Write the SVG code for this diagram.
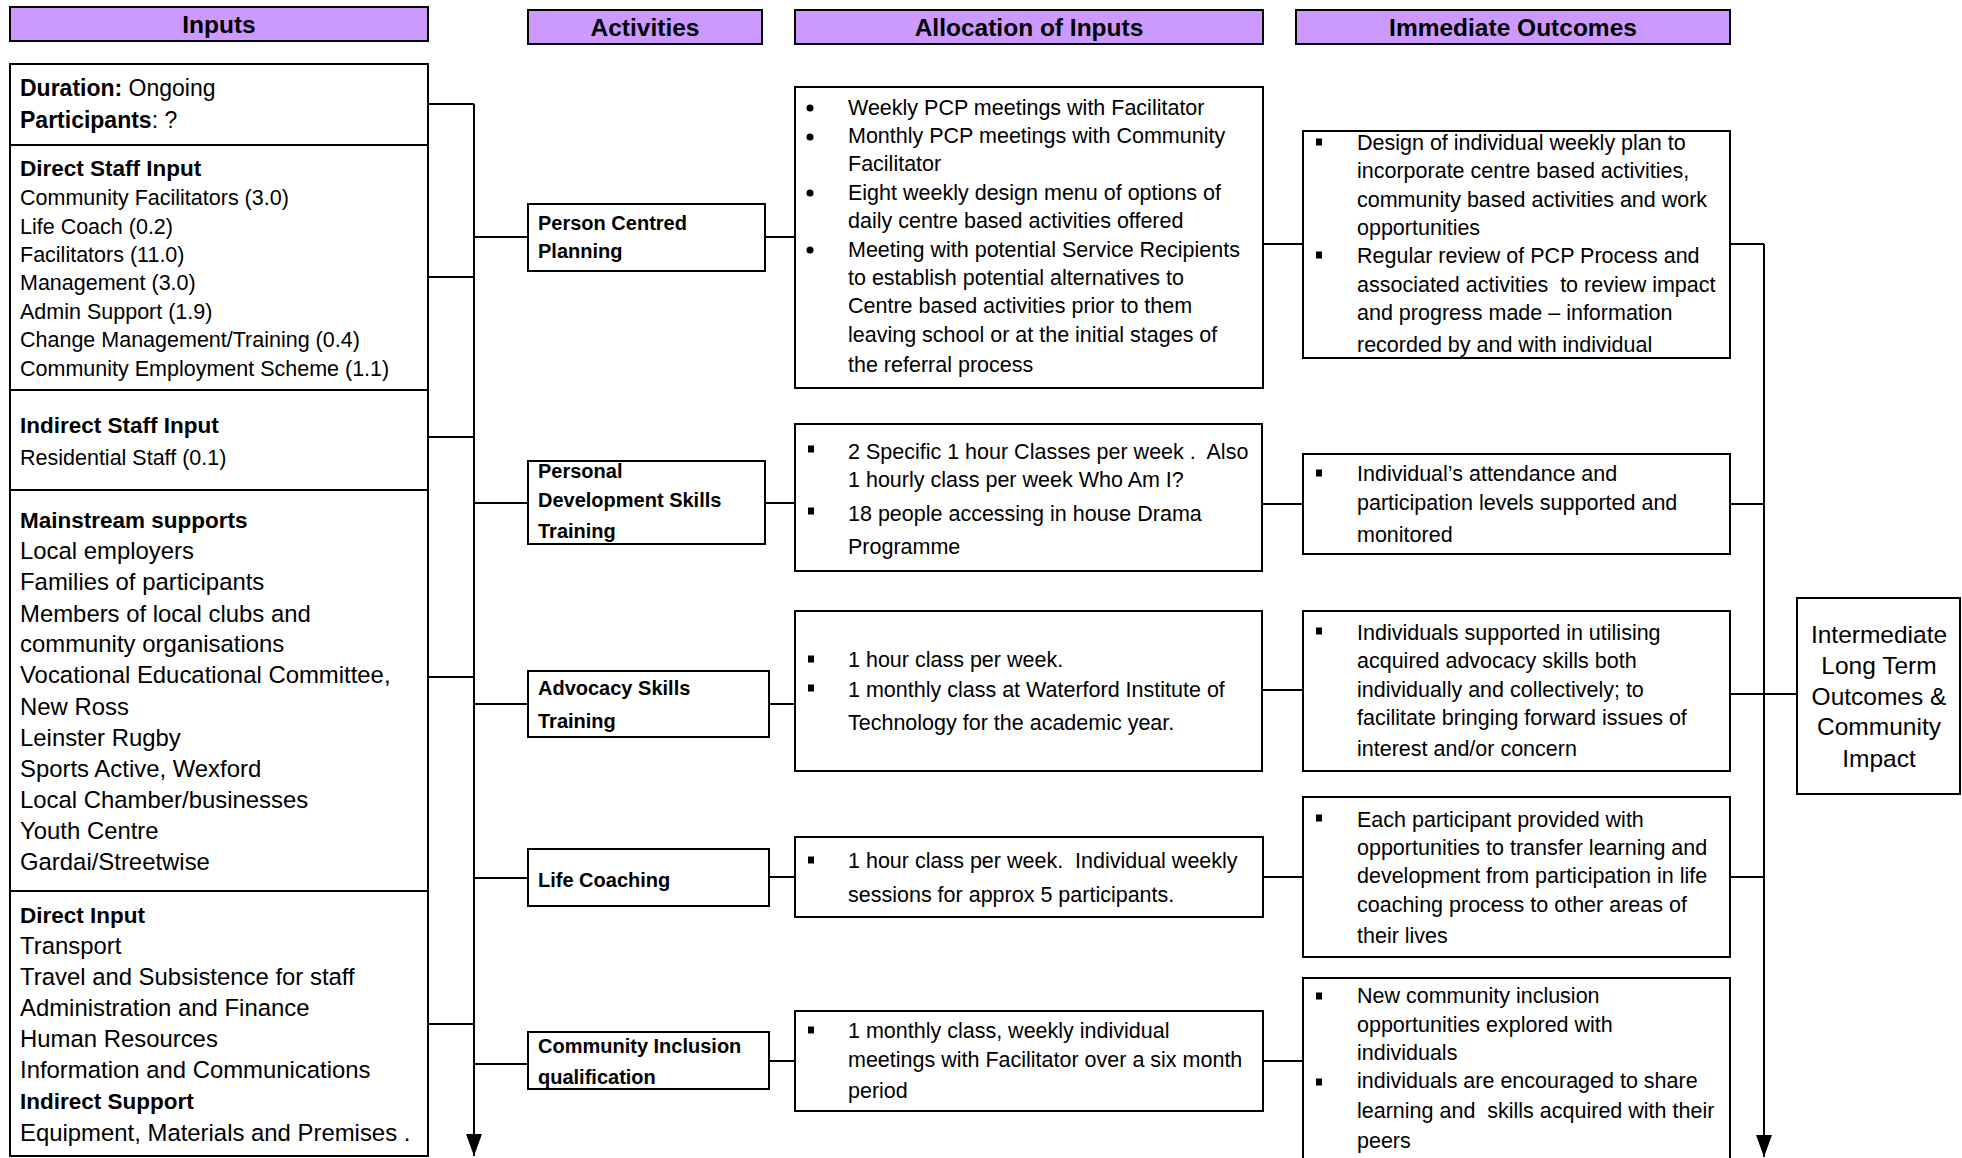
<svg xmlns="http://www.w3.org/2000/svg" width="1962" height="1158" viewBox="0 0 1962 1158">
  <style>
    text { font-family: "Liberation Sans", Arial, sans-serif; fill: #000; }
    .hdr { fill: #cc99ff; stroke: #000; stroke-width: 2; }
    .hdrt { font-size: 24.5px; font-weight: bold; text-anchor: middle; }
    .box { fill: #fff; stroke: #000; stroke-width: 2; }
    .div { stroke: #000; stroke-width: 2; }
    .act { font-size: 20px; font-weight: bold; }
    .body { font-size: 21.5px; }
    .inh { font-size: 22.5px; font-weight: bold; }
    .ins { font-size: 21.5px; }
    .inl { font-size: 23.9px; }
    .b { font-weight: bold; }
    .mid { font-size: 24.5px; text-anchor: middle; }
    .conn { fill: none; stroke: #000; stroke-width: 2; }
  </style>
  <defs>
    <marker id="arrow" markerUnits="userSpaceOnUse" markerWidth="16" markerHeight="22" refX="8" refY="22" orient="0" viewBox="0 0 16 22">
      <path d="M0,0 L16,0 L8,22 Z" fill="#000"/>
    </marker>
    <rect id="sq" x="-3" y="-3.5" width="6" height="7" fill="#000"/>
    <circle id="dot" r="3.5" fill="#000"/>
  </defs>

  <rect width="1962" height="1158" fill="#fff"/>

  <!-- column headers -->
  <g id="headers">
    <rect class="hdr" x="10" y="7" width="418" height="34"/>
    <text class="hdrt" x="219" y="33">Inputs</text>
    <rect class="hdr" x="528" y="10" width="234" height="34"/>
    <text class="hdrt" x="645" y="36">Activities</text>
    <rect class="hdr" x="795" y="10" width="468" height="34"/>
    <text class="hdrt" x="1029" y="36">Allocation of Inputs</text>
    <rect class="hdr" x="1296" y="10" width="434" height="34"/>
    <text class="hdrt" x="1513" y="36">Immediate Outcomes</text>
  </g>

  <!-- connectors -->
  <g id="connectors">
    <path class="conn" d="M428 104 H474 M428 277 H474 M428 437 H474 M428 677 H474 M428 1024 H474"/>
    <path class="conn" d="M474 104 V1156" marker-end="url(#arrow)"/>
    <path class="conn" d="M474 237 H528 M474 503 H528 M474 704 H528 M474 878 H528 M474 1064 H528"/>
    <path class="conn" d="M765 237 H795 M765 503 H795 M769 704 H795 M769 877 H795 M769 1061 H795"/>
    <path class="conn" d="M1263 244 H1303 M1262 504 H1303 M1262 690 H1303 M1263 877 H1303 M1263 1061 H1303"/>
    <path class="conn" d="M1730 244 H1764 M1730 504 H1764 M1730 694 H1797 M1730 877 H1764"/>
    <path class="conn" d="M1764 244 V1157" marker-end="url(#arrow)"/>
  </g>

  <!-- inputs column -->
  <g id="inputs">
    <rect class="box" x="10" y="64" width="418" height="1092"/>
    <path class="div" d="M10 145 H428 M10 390 H428 M10 490 H428 M10 891 H428"/>
    <text x="20" y="96" font-size="23"><tspan class="b">Duration:</tspan> Ongoing</text>
    <text x="20" y="128" font-size="23"><tspan class="b">Participants</tspan>: ?</text>
    <text class="inh" x="20" y="176">Direct Staff Input</text>
    <text class="ins" x="20" y="205">Community Facilitators (3.0)</text>
    <text class="ins" x="20" y="233.5">Life Coach (0.2)</text>
    <text class="ins" x="20" y="262">Facilitators (11.0)</text>
    <text class="ins" x="20" y="290">Management (3.0)</text>
    <text class="ins" x="20" y="318.5">Admin Support (1.9)</text>
    <text class="ins" x="20" y="347">Change Management/Training (0.4)</text>
    <text class="ins" x="20" y="375.5">Community Employment Scheme (1.1)</text>
    <text class="inh" x="20" y="433">Indirect Staff Input</text>
    <text class="ins" x="20" y="465">Residential Staff (0.1)</text>
    <text class="inh" x="20" y="528">Mainstream supports</text>
    <text class="inl" x="20" y="559">Local employers</text>
    <text class="inl" x="20" y="590">Families of participants</text>
    <text class="inl" x="20" y="621.5">Members of local clubs and</text>
    <text class="inl" x="20" y="652">community organisations</text>
    <text class="inl" x="20" y="683">Vocational Educational Committee,</text>
    <text class="inl" x="20" y="714.5">New Ross</text>
    <text class="inl" x="20" y="746">Leinster Rugby</text>
    <text class="inl" x="20" y="777">Sports Active, Wexford</text>
    <text class="inl" x="20" y="808">Local Chamber/businesses</text>
    <text class="inl" x="20" y="839">Youth Centre</text>
    <text class="inl" x="20" y="870">Gardai/Streetwise</text>
    <text class="inh" x="20" y="923">Direct Input</text>
    <text class="inl" x="20" y="953.5">Transport</text>
    <text class="inl" x="20" y="984.5">Travel and Subsistence for staff</text>
    <text class="inl" x="20" y="1015.5">Administration and Finance</text>
    <text class="inl" x="20" y="1047">Human Resources</text>
    <text class="inl" x="20" y="1078">Information and Communications</text>
    <text class="inh" x="20" y="1108.5">Indirect Support</text>
    <text class="inl" x="20" y="1141">Equipment, Materials and Premises .</text>
  </g>

  <!-- activities -->
  <g id="act-pcp">
    <rect class="box" x="528" y="204" width="237" height="67"/>
    <text class="act" x="538" y="230">Person Centred</text>
    <text class="act" x="538" y="258">Planning</text>
  </g>
  <g id="act-pds">
    <rect class="box" x="528" y="461" width="237" height="83"/>
    <text class="act" x="538" y="478">Personal</text>
    <text class="act" x="538" y="507">Development Skills</text>
    <text class="act" x="538" y="538">Training</text>
  </g>
  <g id="act-advocacy">
    <rect class="box" x="528" y="671" width="241" height="66"/>
    <text class="act" x="538" y="695">Advocacy Skills</text>
    <text class="act" x="538" y="728">Training</text>
  </g>
  <g id="act-life">
    <rect class="box" x="528" y="849" width="241" height="57"/>
    <text class="act" x="538" y="887">Life Coaching</text>
  </g>
  <g id="act-inclusion">
    <rect class="box" x="528" y="1032" width="241" height="57"/>
    <text class="act" x="538" y="1053">Community Inclusion</text>
    <text class="act" x="538" y="1084">qualification</text>
  </g>

  <!-- allocation of inputs -->
  <g id="alloc-pcp">
    <rect class="box" x="795" y="87" width="468" height="301"/>
    <use href="#dot" x="810" y="108"/>
    <use href="#dot" x="810" y="137"/>
    <use href="#dot" x="810" y="193"/>
    <use href="#dot" x="810" y="250"/>
    <text class="body" x="848" y="115">Weekly PCP meetings with Facilitator</text>
    <text class="body" x="848" y="143">Monthly PCP meetings with Community</text>
    <text class="body" x="848" y="171">Facilitator</text>
    <text class="body" x="848" y="200">Eight weekly design menu of options of</text>
    <text class="body" x="848" y="228">daily centre based activities offered</text>
    <text class="body" x="848" y="257">Meeting with potential Service Recipients</text>
    <text class="body" x="848" y="285">to establish potential alternatives to</text>
    <text class="body" x="848" y="313">Centre based activities prior to them</text>
    <text class="body" x="848" y="342">leaving school or at the initial stages of</text>
    <text class="body" x="848" y="372">the referral process</text>
  </g>
  <g id="alloc-pds">
    <rect class="box" x="795" y="424" width="467" height="147"/>
    <use href="#sq" x="811" y="449"/>
    <use href="#sq" x="811" y="511"/>
    <text class="body" x="848" y="459" xml:space="preserve">2 Specific 1 hour Classes per week .  Also</text>
    <text class="body" x="848" y="487">1 hourly class per week Who Am I?</text>
    <text class="body" x="848" y="521">18 people accessing in house Drama</text>
    <text class="body" x="848" y="554">Programme</text>
  </g>
  <g id="alloc-advocacy">
    <rect class="box" x="795" y="611" width="467" height="160"/>
    <use href="#sq" x="811" y="659"/>
    <use href="#sq" x="811" y="688"/>
    <text class="body" x="848" y="667">1 hour class per week.</text>
    <text class="body" x="848" y="697">1 monthly class at Waterford Institute of</text>
    <text class="body" x="848" y="730">Technology for the academic year.</text>
  </g>
  <g id="alloc-life">
    <rect class="box" x="795" y="837" width="468" height="80"/>
    <use href="#sq" x="811" y="860"/>
    <text class="body" x="848" y="868" xml:space="preserve">1 hour class per week.  Individual weekly</text>
    <text class="body" x="848" y="902">sessions for approx 5 participants.</text>
  </g>
  <g id="alloc-inclusion">
    <rect class="box" x="795" y="1011" width="468" height="100"/>
    <use href="#sq" x="811" y="1030"/>
    <text class="body" x="848" y="1038">1 monthly class, weekly individual</text>
    <text class="body" x="848" y="1067">meetings with Facilitator over a six month</text>
    <text class="body" x="848" y="1098">period</text>
  </g>

  <!-- immediate outcomes -->
  <g id="out-pcp">
    <rect class="box" x="1303" y="131" width="427" height="227"/>
    <use href="#sq" x="1319" y="142"/>
    <use href="#sq" x="1319" y="255"/>
    <text class="body" x="1357" y="150">Design of individual weekly plan to</text>
    <text class="body" x="1357" y="178">incorporate centre based activities,</text>
    <text class="body" x="1357" y="207">community based activities and work</text>
    <text class="body" x="1357" y="235">opportunities</text>
    <text class="body" x="1357" y="263">Regular review of PCP Process and</text>
    <text class="body" x="1357" y="292" xml:space="preserve">associated activities  to review impact</text>
    <text class="body" x="1357" y="320">and progress made – information</text>
    <text class="body" x="1357" y="352">recorded by and with individual</text>
  </g>
  <g id="out-pds">
    <rect class="box" x="1303" y="454" width="427" height="100"/>
    <use href="#sq" x="1319" y="473"/>
    <text class="body" x="1357" y="481">Individual’s attendance and</text>
    <text class="body" x="1357" y="510">participation levels supported and</text>
    <text class="body" x="1357" y="542">monitored</text>
  </g>
  <g id="out-advocacy">
    <rect class="box" x="1303" y="611" width="427" height="160"/>
    <use href="#sq" x="1319" y="631"/>
    <text class="body" x="1357" y="640">Individuals supported in utilising</text>
    <text class="body" x="1357" y="668">acquired advocacy skills both</text>
    <text class="body" x="1357" y="697">individually and collectively; to</text>
    <text class="body" x="1357" y="725">facilitate bringing forward issues of</text>
    <text class="body" x="1357" y="756">interest and/or concern</text>
  </g>
  <g id="out-life">
    <rect class="box" x="1303" y="797" width="427" height="160"/>
    <use href="#sq" x="1319" y="818"/>
    <text class="body" x="1357" y="827">Each participant provided with</text>
    <text class="body" x="1357" y="855">opportunities to transfer learning and</text>
    <text class="body" x="1357" y="883">development from participation in life</text>
    <text class="body" x="1357" y="912">coaching process to other areas of</text>
    <text class="body" x="1357" y="943">their lives</text>
  </g>
  <g id="out-inclusion">
    <rect class="box" x="1303" y="978" width="427" height="200"/>
    <use href="#sq" x="1319" y="996"/>
    <use href="#sq" x="1319" y="1082"/>
    <text class="body" x="1357" y="1003">New community inclusion</text>
    <text class="body" x="1357" y="1032">opportunities explored with</text>
    <text class="body" x="1357" y="1060">individuals</text>
    <text class="body" x="1357" y="1088">individuals are encouraged to share</text>
    <text class="body" x="1357" y="1118" xml:space="preserve">learning and  skills acquired with their</text>
    <text class="body" x="1357" y="1148">peers</text>
  </g>

  <!-- long-term outcomes -->
  <g id="intermediate">
    <rect class="box" x="1797" y="598" width="163" height="196"/>
    <text class="mid" x="1879" y="643">Intermediate</text>
    <text class="mid" x="1879" y="674">Long Term</text>
    <text class="mid" x="1879" y="705">Outcomes &amp;</text>
    <text class="mid" x="1879" y="735">Community</text>
    <text class="mid" x="1879" y="767">Impact</text>
  </g>
</svg>
